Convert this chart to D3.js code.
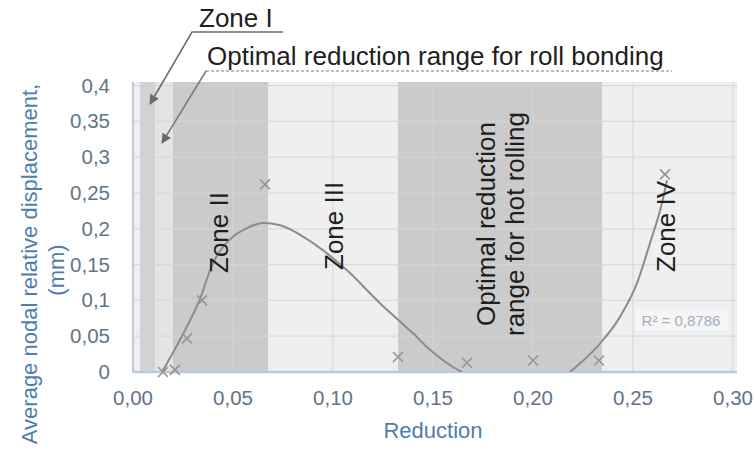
<html>

<head>
    <title>Nodal displacement vs reduction</title>
    <script src="https://d3js.org/d3.v7.min.js"></script>
    <style>
        body { margin: 0; background: #fff; }
        text { font-family: 'Liberation Sans', Arial, sans-serif; }
    </style>
</head>

<body>
    <script>
        // measured points (x markers)
        const reduction = [0.015, 0.021, 0.027, 0.0345, 0.066, 0.1325, 0.167, 0.2, 0.233, 0.266]
        const displacement = [0.0, 0.003, 0.047, 0.10, 0.262, 0.021, 0.013, 0.016, 0.016, 0.276]

        // polynomial trendline, the two parts above zero
        const trendX1 = [0.0145, 0.0235, 0.0335, 0.0395, 0.0445, 0.05, 0.057, 0.065, 0.0735, 0.09, 0.107, 0.1235, 0.14, 0.1485, 0.16, 0.1645]
        const trendY1 = [0, 0.045, 0.102, 0.149, 0.173, 0.189, 0.201, 0.208, 0.205, 0.18, 0.142, 0.096, 0.054, 0.031, 0.007, 0]
        const trendX2 = [0.2185, 0.232, 0.2435, 0.252, 0.2585, 0.2645, 0.267]
        const trendY2 = [0, 0.035, 0.077, 0.124, 0.18, 0.236, 0.268]

        const xTicks = [0, 0.05, 0.10, 0.15, 0.20, 0.25, 0.30]
        const xTickLabels = ['0,00', '0,05', '0,10', '0,15', '0,20', '0,25', '0,30']
        const yTicks = [0, 0.05, 0.1, 0.15, 0.2, 0.25, 0.3, 0.35, 0.4]
        const yTickLabels = ['0', '0,05', '0,1', '0,15', '0,2', '0,25', '0,3', '0,35', '0,4']

        // shaded reduction ranges
        const bandStart = [0.0035, 0.011, 0.02, 0.1325]
        const bandEnd = [0.011, 0.02, 0.0675, 0.2345]

        const rSquared = 'R² = 0,8786'

        const width = 755
        const height = 453
        const x = d3.scaleLinear().domain([0, 0.3]).range([133, 733])
        const y = d3.scaleLinear().domain([0, 0.4]).range([372, 85.6])
        const plotRight = 737
        const plotTop = 82

        const svg = d3.select('body').append('svg')
            .attr('width', width)
            .attr('height', height)

        const defs = svg.append('defs')
        defs.append('clipPath').attr('id', 'plot')
            .append('rect')
            .attr('x', x(0)).attr('y', plotTop)
            .attr('width', plotRight - x(0)).attr('height', y(0) - plotTop)
        defs.append('marker')
            .attr('id', 'arrow')
            .attr('viewBox', '0 0 10 10')
            .attr('refX', 9).attr('refY', 5)
            .attr('markerWidth', 11).attr('markerHeight', 10)
            .attr('markerUnits', 'userSpaceOnUse')
            .attr('orient', 'auto')
            .append('path')
            .attr('d', 'M0,0 L10,5 L0,10 z')
            .attr('fill', '#6b6b6b')

        // plot background
        svg.append('rect')
            .attr('x', x(0)).attr('y', plotTop)
            .attr('width', plotRight - x(0)).attr('height', y(0) - plotTop)
            .attr('fill', '#efefef')

        const bandFill = ['#d2d2d2', '#e4e4e4', '#cbcbcb', '#cbcbcb']
        svg.append('g').selectAll('rect')
            .data(bandStart)
            .enter()
            .append('rect')
            .attr('x', d => x(d))
            .attr('y', plotTop)
            .attr('width', (d, i) => x(bandEnd[i]) - x(d))
            .attr('height', y(0) - plotTop)
            .attr('fill', (d, i) => bandFill[i])

        // grid
        const grid = svg.append('g')
            .attr('stroke', '#d6d6d6')
            .attr('stroke-width', 1.2)
            .attr('opacity', 0.8)
        grid.selectAll('.h')
            .data(yTicks.slice(1))
            .enter()
            .append('line')
            .attr('x1', x(0)).attr('x2', plotRight)
            .attr('y1', d => y(d)).attr('y2', d => y(d))
        grid.selectAll('.v')
            .data(xTicks.slice(1))
            .enter()
            .append('line')
            .attr('y1', plotTop).attr('y2', y(0))
            .attr('x1', d => x(d)).attr('x2', d => x(d))

        // axes lines
        svg.append('line')
            .attr('x1', x(0)).attr('x2', x(0))
            .attr('y1', plotTop).attr('y2', y(0))
            .attr('stroke', '#b9cadd').attr('stroke-width', 2)
        svg.append('line')
            .attr('x1', x(0)).attr('x2', plotRight)
            .attr('y1', y(0)).attr('y2', y(0))
            .attr('stroke', '#b9cadd').attr('stroke-width', 2.5)

        // tick labels
        svg.append('g').selectAll('text')
            .data(yTicks)
            .enter()
            .append('text')
            .attr('x', 110)
            .attr('y', d => y(d) + 7)
            .attr('text-anchor', 'end')
            .attr('font-size', '20.5px')
            .attr('fill', '#62748a')
            .text((d, i) => yTickLabels[i])
        svg.append('g').selectAll('text')
            .data(xTicks)
            .enter()
            .append('text')
            .attr('x', d => x(d))
            .attr('y', 405)
            .attr('text-anchor', 'middle')
            .attr('font-size', '20.5px')
            .attr('fill', '#62748a')
            .text((d, i) => xTickLabels[i])

        // axis titles
        svg.append('text')
            .attr('x', 433).attr('y', 438)
            .attr('text-anchor', 'middle')
            .attr('font-size', '22px')
            .attr('fill', '#4f7dae')
            .text('Reduction')
        svg.append('text')
            .attr('transform', 'translate(37, 264) rotate(-90)')
            .attr('text-anchor', 'middle')
            .attr('font-size', '22px')
            .attr('fill', '#4f7dae')
            .text('Average nodal relative displacement,')
        svg.append('text')
            .attr('transform', 'translate(64, 270) rotate(-90)')
            .attr('text-anchor', 'middle')
            .attr('font-size', '22px')
            .attr('fill', '#4f7dae')
            .text('(mm)')

        // trendline
        const line = d3.line()
            .x(d => x(d[0]))
            .y(d => y(d[1]))
            .curve(d3.curveMonotoneX)
        const trend = svg.append('g')
            .attr('clip-path', 'url(#plot)')
            .attr('fill', 'none')
            .attr('stroke', '#8c8c8c')
            .attr('stroke-width', 2)
        trend.append('path').attr('d', line(d3.zip(trendX1, trendY1)))
        trend.append('path').attr('d', line(d3.zip(trendX2, trendY2)))

        // x markers
        const s = 5
        svg.append('g').selectAll('path')
            .data(d3.zip(reduction, displacement))
            .enter()
            .append('path')
            .attr('d', d => {
                const cx = x(d[0]), cy = y(d[1])
                return `M${cx - s},${cy - s}L${cx + s},${cy + s}M${cx - s},${cy + s}L${cx + s},${cy - s}`
            })
            .attr('stroke', '#959595')
            .attr('stroke-width', 1.6)
            .attr('fill', 'none')

        // R squared label
        svg.append('rect')
            .attr('x', 635).attr('y', 309)
            .attr('width', 93).attr('height', 22)
            .attr('fill', '#f4f5f7')
        svg.append('text')
            .attr('x', 681).attr('y', 326)
            .attr('text-anchor', 'middle')
            .attr('font-size', '15px')
            .attr('fill', '#a6afba')
            .text(rSquared)

        // zone labels
        const zoneLabels = [
            { text: 'Zone II', bx: 228, by: 273, anchor: 'start' },
            { text: 'Zone III', bx: 343, by: 270, anchor: 'start' },
            { text: 'Zone IV', bx: 675, by: 272, anchor: 'start' },
            { text: 'Optimal reduction', bx: 495, by: 224, anchor: 'middle' },
            { text: 'range for hot rolling', bx: 524, by: 224, anchor: 'middle' }
        ]
        svg.append('g').selectAll('text')
            .data(zoneLabels)
            .enter()
            .append('text')
            .attr('transform', d => `translate(${d.bx}, ${d.by}) rotate(-90)`)
            .attr('text-anchor', d => d.anchor)
            .attr('font-size', '26px')
            .attr('fill', '#1e1e1e')
            .text(d => d.text)

        // callouts on top
        svg.append('text')
            .attr('x', 199).attr('y', 27)
            .attr('font-size', '26px')
            .attr('fill', '#1e1e1e')
            .text('Zone I')
        svg.append('text')
            .attr('x', 207).attr('y', 65)
            .attr('font-size', '26px')
            .attr('fill', '#1e1e1e')
            .text('Optimal reduction range for roll bonding')

        svg.append('path')
            .attr('d', 'M283,32 L192,32 L150,104')
            .attr('fill', 'none')
            .attr('stroke', '#6b6b6b')
            .attr('stroke-width', 1.5)
            .attr('marker-end', 'url(#arrow)')
        svg.append('line')
            .attr('x1', 206).attr('y1', 71).attr('x2', 672).attr('y2', 71)
            .attr('stroke', '#a8a8a8')
            .attr('stroke-width', 1.5)
            .attr('stroke-dasharray', '3,2')
        svg.append('path')
            .attr('d', 'M206,71 L162,143')
            .attr('fill', 'none')
            .attr('stroke', '#7a7a7a')
            .attr('stroke-width', 1.5)
            .attr('marker-end', 'url(#arrow)')
    </script>
</body>

</html>
